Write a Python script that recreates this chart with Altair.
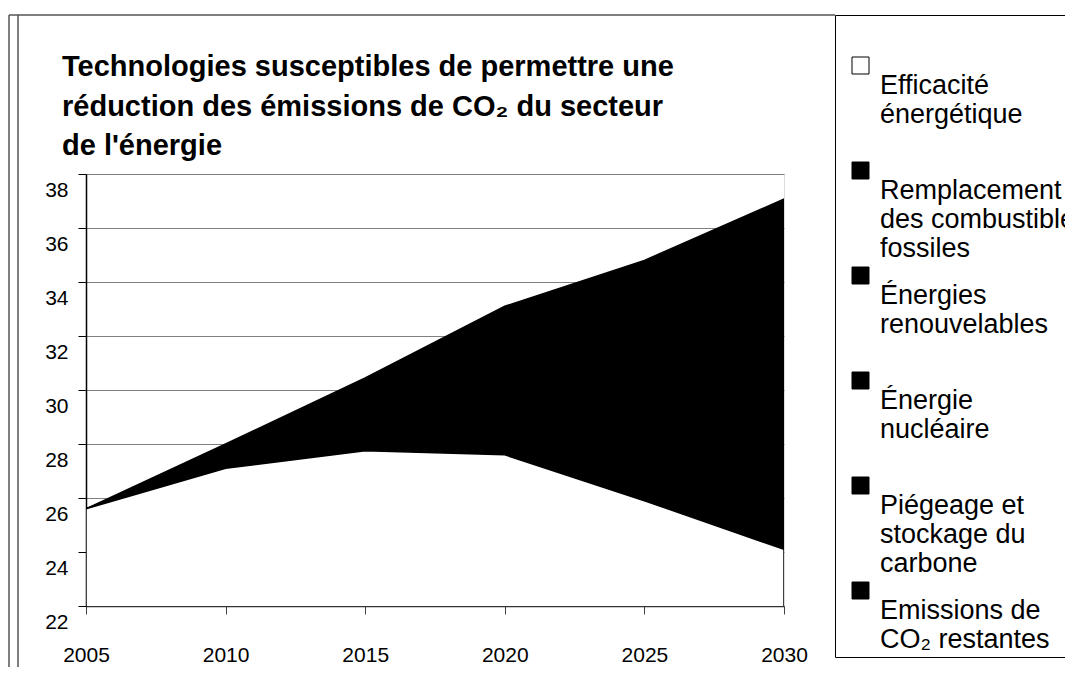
import altair as alt
import pandas as pd

# ---- data ----
annees = [2005, 2010, 2015, 2020, 2025, 2030]
series = [
    "Efficacité|énergétique|",
    "Remplacement|des combustibles|fossiles",
    "Énergies|renouvelables|",
    "Énergie|nucléaire|",
    "Piégeage et|stockage du|carbone",
    "Emissions de|CO₂ restantes",
]
couleurs = ["white", "black", "black", "black", "black", "black"]

emissions_restantes = [25.6, 27.1, 27.75, 27.6, 25.9, 24.1]
piegeage = [0.0, 0.1, 0.4, 1.0, 2.2, 3.6]
nucleaire = [0.0, 0.2, 0.5, 1.0, 1.6, 2.2]
renouvelables = [0.0, 0.3, 0.9, 1.9, 3.2, 4.7]
remplacement = [0.0, 0.3, 0.9, 1.6, 1.9, 2.47]

y_ticks = [22, 24, 26, 28, 30, 32, 34, 36, 38]

titre = [
    "Technologies susceptibles de permettre une",
    "réduction des émissions de CO₂ du secteur",
    "de l'énergie",
]

# ---- table ----
stack_series = [
    (series[5], emissions_restantes, 0),
    (series[4], piegeage, 1),
    (series[3], nucleaire, 2),
    (series[2], renouvelables, 3),
    (series[1], remplacement, 4),
]
rows = []
for name, vals, rang in stack_series:
    for a, v in zip(annees, vals):
        rows.append({"annee": a, "valeur": v, "serie": name, "rang": rang})
df = pd.DataFrame(rows)

FONT = "Liberation Sans"
LABEL_DY = 7  # vertical shift applied to guide labels (style guide-label)

x_enc = alt.X(
    "annee:Q",
    scale=alt.Scale(domain=[2005, 2030], nice=False, zero=False),
    axis=alt.Axis(
        values=annees, format="d", title=None, grid=False,
        labelFont=FONT, labelFontSize=21, labelColor="black",
        labelPadding=23, labelFlush=False, labelOverlap=False,
        tickSize=8, tickColor="#444", domainColor="#333", domainWidth=1.5,
    ),
)
y_scale = alt.Scale(domain=[22, 38], nice=False, zero=False)

stack = alt.Chart(df).mark_area(clip=True, strokeWidth=1.5).encode(
    x=x_enc,
    y=alt.Y(
        "valeur:Q", stack="zero", scale=y_scale,
        axis=alt.Axis(
            values=y_ticks, title=None, grid=True, gridColor="#808080",
            labelFont=FONT, labelFontSize=21, labelColor="black",
            labelPadding=10, labelOffset=16 - LABEL_DY, labelFlush=False,
            labelOverlap=False,
            tickSize=8, tickColor="black", domainColor="black", domainWidth=1.5,
        ),
    ),
    color=alt.Color(
        "serie:N",
        scale=alt.Scale(domain=series, range=couleurs),
        legend=alt.Legend(
            title=" ", titleFontSize=20, titlePadding=13,
            orient="none", legendX=749, legendY=-159,
            direction="vertical", symbolType="square", symbolSize=289,
            symbolStrokeColor="black", symbolStrokeWidth=1, symbolOpacity=1,
            symbolOffset=8,
            labelFont=FONT, labelFontSize=27, labelColor="black",
            labelExpr="split(datum.label, '|')", labelLimit=500,
            labelBaseline="top", labelOffset=6,
            strokeColor="black", fillColor="white", padding=4, rowPadding=0,
        ),
    ),
    stroke=alt.value("black"),
    order=alt.Order("rang:Q", sort="ascending"),
)

restantes_layer = alt.Chart(df).transform_filter(alt.datum.rang == 0).mark_area(
    clip=True, color="white", stroke="black", strokeWidth=1.5
).encode(
    x=alt.X("annee:Q"),
    y=alt.Y("valeur:Q", scale=y_scale),
    y2=alt.datum(0),
)

frame_df = pd.DataFrame({"k": [0]})
frame_top = alt.Chart(frame_df).mark_rule(color="#555", strokeWidth=1.5, clip=False).encode(
    x=alt.value(-77), x2=alt.value(749), y=alt.value(-159)
)
frame_l1 = alt.Chart(frame_df).mark_rule(color="#555", strokeWidth=1.5, clip=False).encode(
    x=alt.value(-77), y=alt.value(-159), y2=alt.value(520)
)
frame_l2 = alt.Chart(frame_df).mark_rule(color="#555", strokeWidth=1.5, clip=False).encode(
    x=alt.value(-68), y=alt.value(-159), y2=alt.value(520)
)

chart = alt.layer(stack, restantes_layer, frame_top, frame_l1, frame_l2).properties(
    width=698,
    height=432,
    padding={"left": 78, "top": 166, "right": 281, "bottom": 61},
    autosize=alt.AutoSizeParams(type="none"),
    title=alt.Title(
        titre, anchor="start", frame="group", font=FONT, fontSize=29,
        fontWeight="bold", color="black", lineHeight=39.5, baseline="top",
        dx=-24, dy=29, offset=-118,
    ),
).configure_view(stroke=None).configure(
    background="white",
    style={"guide-label": {"lineHeight": 29, "dy": LABEL_DY}},
)

chart.save("out.html", embed_options={"renderer": "svg", "actions": False})
